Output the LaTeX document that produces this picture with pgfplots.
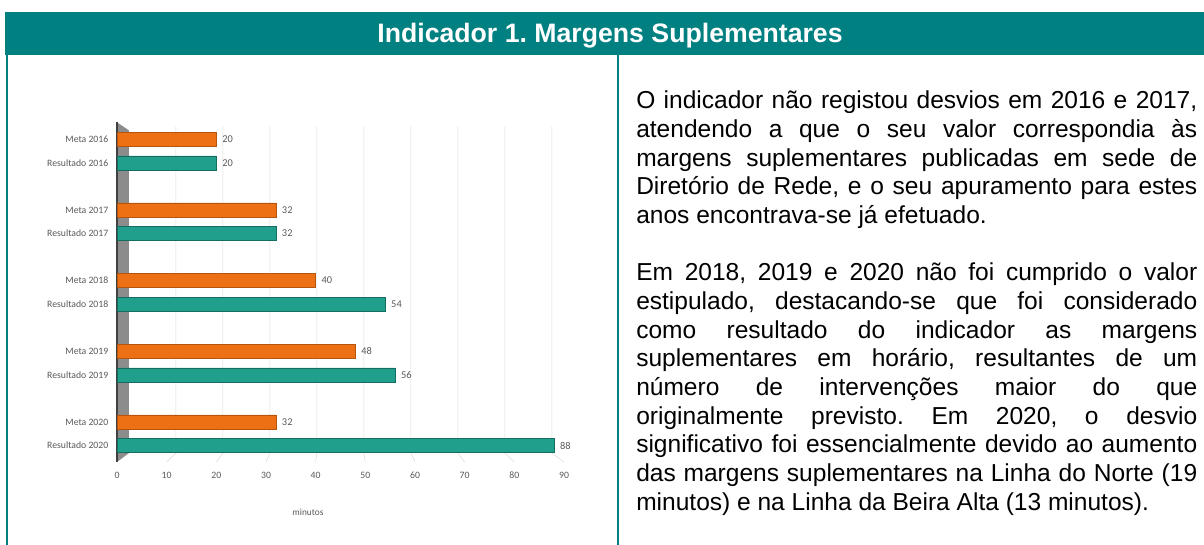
\documentclass[border=0pt]{standalone}
\usepackage{pgfplots}
\pgfplotsset{compat=1.18}
\usepackage{fontspec}
\setmainfont{Liberation Sans}
\newfontfamily\calibri{Carlito}
\definecolor{hdr}{HTML}{008080}
\definecolor{orb}{HTML}{ED7114}
\definecolor{orbd}{HTML}{B5540C}
\definecolor{teb}{HTML}{20A08C}
\definecolor{tebd}{HTML}{146E5F}
\definecolor{lbl}{HTML}{595959}
\definecolor{grd}{HTML}{D9D9D9}
\definecolor{wall}{HTML}{8C8C8C}
\definecolor{axd}{HTML}{404040}
\begin{document}
\frenchspacing
\begin{tikzpicture}[x=0.75pt,y=0.75pt]
\path[use as bounding box] (0,0) rectangle (1204,545);
\fill[hdr] (5,533) rectangle (1204,489.5);
\node[anchor=base, text=white, font=\fontsize{20}{24}\selectfont\bfseries] at (610,502) {Indicador 1. Margens Suplementares};
\draw[hdr, line width=1.5pt] (6.5,490) -- (6.5,0);
\draw[hdr, line width=1.5pt] (618,490) -- (618,0);

\node[anchor=north west, inner sep=0pt, text width=420.75pt, align=justify, font=\fontsize{18.4}{21.5}\selectfont] at (636,455) {%
\hyphenpenalty=10000 \exhyphenpenalty=10000 \tolerance=10000 \hbadness=10000 \parindent=0pt \setlength{\parskip}{21.5pt}\frenchspacing
\rule{0pt}{14pt}O indicador não registou desvios em 2016 e 2017,\linebreak
atendendo a que o seu valor correspondia às\linebreak
margens suplementares publicadas em sede de\linebreak
Diretório de Rede, e o seu apuramento para estes\linebreak
anos encontrava-se já efetuado.\par
Em 2018, 2019 e 2020 não foi cumprido o valor\linebreak
estipulado, destacando-se que foi considerado\linebreak
como resultado do indicador as margens\linebreak
suplementares em horário, resultantes de um\linebreak
número de intervenções maior do que\linebreak
originalmente previsto. Em 2020, o desvio\linebreak
significativo foi essencialmente devido ao aumento\linebreak
das margens suplementares na Linha do Norte (19\linebreak
minutos) e na Linha da Beira Alta (13 minutos).\par};

\coordinate (AX) at (117,83);
\begin{axis}[
  at={(AX)}, anchor=south west,
  scale only axis, width=335.25pt, height=254.7pt,
  xbar, bar width=10.5pt,
  xmin=0, xmax=90, ymin=-0.70, ymax=13.72,
  xtick={0,10,...,90},
  ytick={0,1,3,4,6,7,9,10,12,13},
  yticklabels={Resultado 2020,Meta 2020,Resultado 2019,Meta 2019,Resultado 2018,Meta 2018,Resultado 2017,Meta 2017,Resultado 2016,Meta 2016},
  axis line style={draw=none},
  major tick length=0pt,
  tick label style={font=\calibri\fontsize{7.3}{9}\selectfont, text=lbl},
  yticklabel style={xshift=-3pt},
  xticklabel style={yshift=-4pt, anchor=north},
  /pgf/number format/assume math mode=true,
  nodes near coords,
  nodes near coords style={font=\calibri\fontsize{7.8}{9}\selectfont, text=lbl, xshift=1pt},
  clip=false,
]
% back wall grid
\draw[grd] (axis cs:11.87,13.55) -- (axis cs:11.87,-0.32) -- (axis cs:10,-0.70);
\draw[grd] (axis cs:21.33,13.55) -- (axis cs:21.33,-0.32) -- (axis cs:20,-0.70);
\draw[grd] (axis cs:30.79,13.55) -- (axis cs:30.79,-0.32) -- (axis cs:30,-0.70);
\draw[grd] (axis cs:40.25,13.55) -- (axis cs:40.25,-0.32) -- (axis cs:40,-0.70);
\draw[grd] (axis cs:49.71,13.55) -- (axis cs:49.71,-0.32) -- (axis cs:50,-0.70);
\draw[grd] (axis cs:59.17,13.55) -- (axis cs:59.17,-0.32) -- (axis cs:60,-0.70);
\draw[grd] (axis cs:68.63,13.55) -- (axis cs:68.63,-0.32) -- (axis cs:70,-0.70);
\draw[grd] (axis cs:78.09,13.55) -- (axis cs:78.09,-0.32) -- (axis cs:80,-0.70);
\draw[grd] (axis cs:87.55,13.55) -- (axis cs:87.55,-0.32) -- (axis cs:90,-0.70);
% left wall
\fill[wall] (axis cs:0,-0.70) -- (axis cs:2.41,-0.32) -- (axis cs:2.41,13.38) -- (axis cs:0,13.72) -- cycle;
\draw[axd, line width=1.4pt] (axis cs:0,-0.70) -- (axis cs:0,13.72);
\addplot[fill=orb, draw=orbd, bar shift=0pt] coordinates {(20,13) (32,10) (40,7) (48,4) (32,1)};
\addplot[fill=teb, draw=tebd, bar shift=0pt] coordinates {(20,12) (32,9) (54,6) (56,3) (88,0)};
\end{axis}
\node[font=\calibri\fontsize{7}{8}\selectfont, text=lbl] at (308,33) {minutos};
\end{tikzpicture}
\end{document}
